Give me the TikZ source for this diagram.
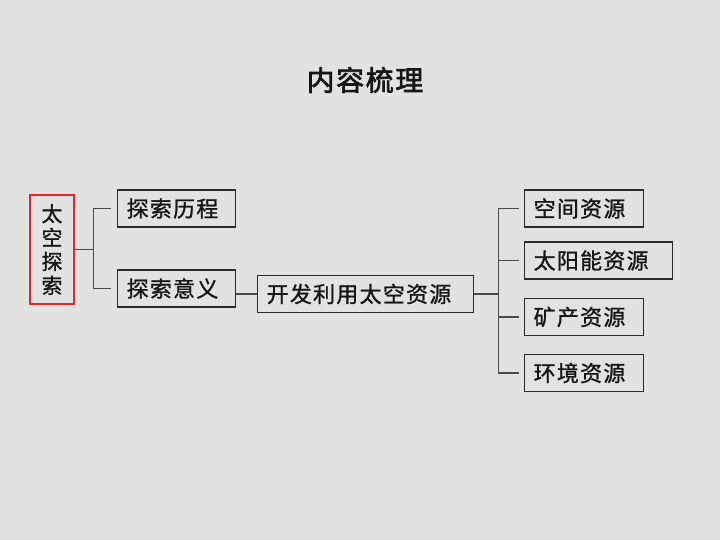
\documentclass[tikz,border=0pt]{standalone}
\usepackage{fontspec}
\newfontfamily\cjk[LetterSpace=6,FakeBold=1.2]{Noto Sans CJK SC}
\newfontfamily\cjkhead[LetterSpace=6,FakeBold=2.5]{Noto Sans CJK SC}
\usepackage{tikz}
\usetikzlibrary{positioning,calc}
\definecolor{bg}{HTML}{E2E2E2}
\definecolor{ink}{HTML}{161616}
\definecolor{rim}{HTML}{2A2A2A}
\definecolor{wirec}{HTML}{4A4A4A}
\definecolor{hot}{HTML}{E0262B}

\begin{document}
\begin{tikzpicture}[x=1bp,y=-1bp,
  box/.style={draw=rim,line width=1.4bp,minimum height=37bp,inner xsep=9bp,inner ysep=0pt,
              anchor=west,align=left,font=\cjk\fontsize{22}{26}\selectfont,text=ink},
  side/.style={draw=hot,line width=1.3bp,minimum width=44bp,minimum height=109bp,inner sep=0pt,
               align=center,font=\cjk\fontsize{21}{24}\selectfont,text=ink},
  wire/.style={draw=wirec,line width=1.1bp}]
  \fill[bg] (0,0) rectangle (720,540);
  \node[font=\cjkhead\fontsize{28}{32}\selectfont,text=ink] (ttl) at (365,80) {内容梳理};
  \node[side] (tk) at (52,249.5) {太\\空\\探\\索};
  \node[box,text width=100bp] (lc) at (117,208.5) {探索历程};
  \node[box,text width=100bp] (yy) at (117,288.5) {探索意义};
  \node[box,text width=198bp] (kf) at (257,294) {开发利用太空资源};
  \node[box,text width=101bp] (kj) at (524,208.5) {空间资源};
  \node[box,text width=130bp] (ty) at (524,260.5) {太阳能资源};
  \node[box,text width=101bp] (kc) at (524,317) {矿产资源};
  \node[box,text width=101bp] (hj) at (524,373) {环境资源};
  % left bracket
  \coordinate (j1) at ($(tk.east)+(19,0)$);
  \draw[wire] (tk.east) -- (j1);
  \draw[wire,shorten <=6bp] (lc.west) -| (j1);
  \draw[wire,shorten <=6bp] (yy.west) -| (j1);
  \draw[wire] (kf.west) -- (kf.west -| yy.east);
  % right bracket
  \coordinate (j2) at ($(kf.east)+(24,0)$);
  \draw[wire] (kf.east) -- (j2);
  \foreach \n in {kj,ty,kc,hj}
    \draw[wire,shorten <=5bp] (\n.west) -| (j2);
\end{tikzpicture}
\end{document}
